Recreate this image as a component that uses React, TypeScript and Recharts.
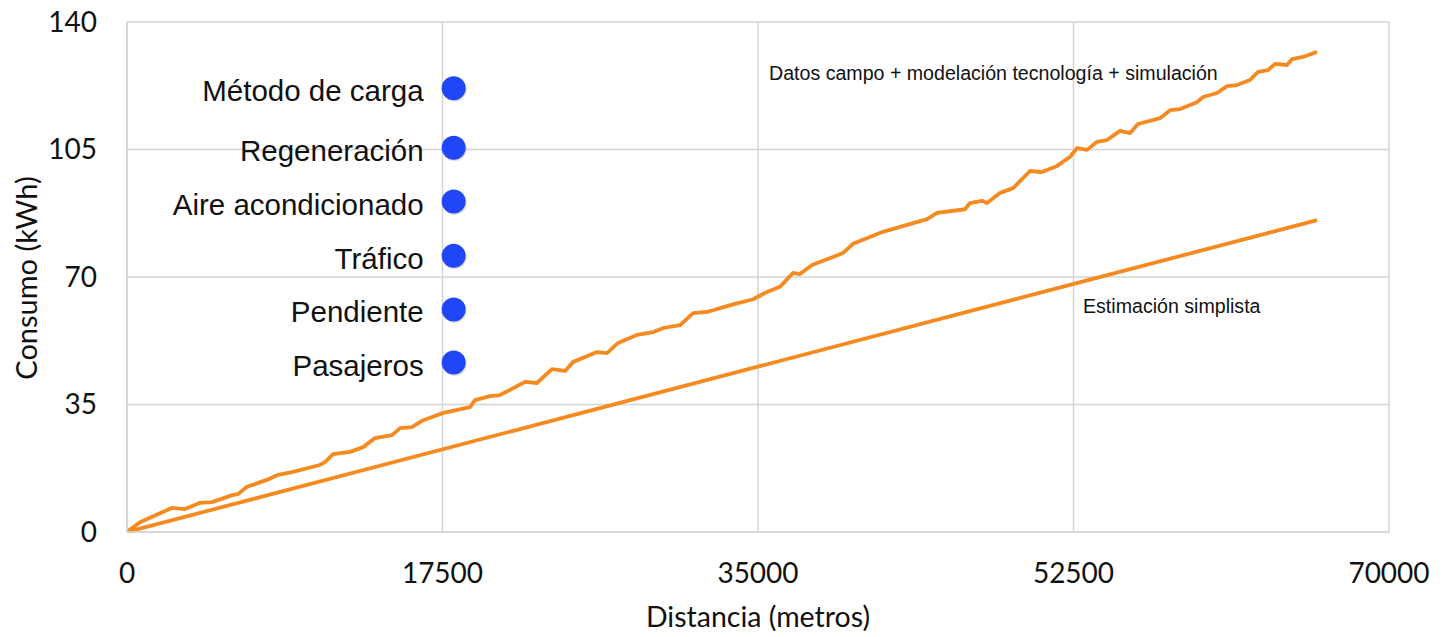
import React from 'react';
import { ComposedChart, Line, Scatter, XAxis, YAxis, CartesianGrid, Label } from 'recharts';

const xTicks = [0, 17500, 35000, 52500, 70000];
const yTicks = [0, 35, 70, 105, 140];

const fieldDistance = [0, 721, 2480, 3217, 4050, 4715, 5880, 6160, 6650, 7760, 8320, 9210, 10700, 10980, 11430, 12370, 13100, 13760, 14700, 15150, 15800, 16430, 17550, 19030, 19300, 20140, 20690, 22080, 22740, 23570, 24300, 24750, 26070, 26620, 27240, 28280, 29200, 29750, 30680, 31400, 32170, 33620, 34730, 35500, 36220, 36940, 37330, 38000, 39160, 39720, 40270, 41930, 43600, 44380, 44930, 46480, 46760, 47420, 47700, 48430, 49150, 50090, 50750, 51590, 52310, 52700, 53250, 53810, 54360, 55080, 55640, 56080, 57300, 57860, 58410, 59350, 59690, 60460, 61020, 61570, 62290, 62740, 63290, 63680, 64340, 64620, 65230, 66010];
const fieldConsumption = [0, 2.7, 6.6, 6.3, 8.0, 8.2, 10.2, 10.4, 12.4, 14.3, 15.6, 16.5, 18.4, 19.2, 21.4, 22.0, 23.3, 25.8, 26.6, 28.5, 28.8, 30.7, 32.7, 34.3, 36.2, 37.3, 37.6, 41.2, 40.9, 44.7, 44.2, 46.7, 49.4, 49.1, 51.9, 54.1, 54.9, 56.0, 56.8, 60.1, 60.4, 62.5, 63.9, 65.9, 67.3, 71.1, 70.8, 73.3, 75.5, 76.6, 79.1, 82.4, 84.8, 85.9, 87.6, 88.6, 90.3, 90.9, 90.3, 93.1, 94.4, 99.1, 98.8, 100.5, 103.0, 105.4, 104.9, 107.1, 107.6, 110.1, 109.5, 112.0, 113.6, 115.8, 116.1, 118.0, 119.4, 120.5, 122.4, 122.7, 124.1, 126.3, 126.8, 128.5, 128.2, 129.8, 130.4, 131.8];

const simpleDistance = [0, 66010];
const simpleConsumption = [0, 85.6];

const factorNames = ['Método de carga', 'Regeneración', 'Aire acondicionado', 'Tráfico', 'Pendiente', 'Pasajeros'];
const factorX = [18120, 18120, 18120, 18120, 18120, 18120];
const factorY = [121.8, 105.5, 90.7, 75.8, 61.1, 46.5];

const annotationTexts = ['Datos campo + modelación tecnología + simulación', 'Estimación simplista'];

const fieldData = fieldDistance.map((x, i) => ({ x, y: fieldConsumption[i] }));
const simpleData = simpleDistance.map((x, i) => ({ x, y: simpleConsumption[i] }));
const factorData = factorNames.map((name, i) => ({ x: factorX[i], y: factorY[i], name }));

const ORANGE = '#F58A20';
const BLUE = '#2146F7';
const GRID = '#D4D4D4';
const TICK_FONT = 'Lato, "Open Sans", sans-serif';
const TEXT_FONT = '"Liberation Sans", Arial, sans-serif';

const FactorDot = (props: any) => {
  const { cx, cy, payload } = props;
  return (
    <g>
      <circle cx={cx + 1} cy={cy + 1.5} r={12} fill="#000" opacity={0.12} />
      <circle cx={cx} cy={cy} r={12} fill={BLUE} />
      <text x={cx - 30} y={cy + 13} textAnchor="end" fontFamily={TEXT_FONT} fontSize={29.5} fill="#111">
        {payload.name}
      </text>
    </g>
  );
};

export default function App() {
  return (
    <div style={{ position: 'absolute', left: 0, top: 0, width: 1451, height: 637, background: '#fff' }}>
      <ComposedChart width={1451} height={637} margin={{ top: 22, right: 62, bottom: 5, left: 47 }}>
        <CartesianGrid stroke={GRID} strokeWidth={1.5} horizontalValues={yTicks} verticalValues={xTicks} />
        <XAxis
          type="number"
          dataKey="x"
          domain={[0, 70000]}
          ticks={xTicks}
          allowDataOverflow
          height={100}
          axisLine={{ stroke: GRID, strokeWidth: 1.5 }}
          tickLine={false}
          tickSize={0}
          tickMargin={31}
          tick={{ fontFamily: TICK_FONT, fontSize: 28, fill: '#111' }}
        >
          <Label
            value="Distancia (metros)"
            position="insideBottom"
            offset={5}
            style={{ fontFamily: TICK_FONT, fontSize: 28.5, fill: '#111' }}
          />
        </XAxis>
        <YAxis
          type="number"
          dataKey="y"
          domain={[0, 140]}
          ticks={yTicks}
          allowDataOverflow
          width={80}
          axisLine={{ stroke: GRID, strokeWidth: 1.5 }}
          tickLine={false}
          tickSize={0}
          tickMargin={30}
          tick={{ fontFamily: TICK_FONT, fontSize: 28, fill: '#111' }}
        >
          <Label
            content={() => (
              <text
                x={37}
                y={278}
                transform="rotate(-90 37 278)"
                textAnchor="middle"
                fontFamily={TICK_FONT}
                fontSize={29}
                fill="#111"
              >
                Consumo (kWh)
              </text>
            )}
          />
        </YAxis>
        <Line
          data={simpleData}
          dataKey="y"
          type="linear"
          stroke={ORANGE}
          strokeWidth={3.8}
          dot={false}
          activeDot={false}
          isAnimationActive={false}
        >
          <Label
            content={() => (
              <text x={1083} y={313} fontFamily={TEXT_FONT} fontSize={19.6} fill="#111">
                {annotationTexts[1]}
              </text>
            )}
          />
        </Line>
        <Line
          data={fieldData}
          dataKey="y"
          type="linear"
          stroke={ORANGE}
          strokeWidth={3.8}
          strokeLinejoin="round"
          dot={false}
          activeDot={false}
          isAnimationActive={false}
        >
          <Label
            content={() => (
              <text x={769} y={80} fontFamily={TEXT_FONT} fontSize={19.6} fill="#111">
                {annotationTexts[0]}
              </text>
            )}
          />
        </Line>
        <Scatter data={factorData} dataKey="y" shape={FactorDot} isAnimationActive={false} />
      </ComposedChart>
    </div>
  );
}
